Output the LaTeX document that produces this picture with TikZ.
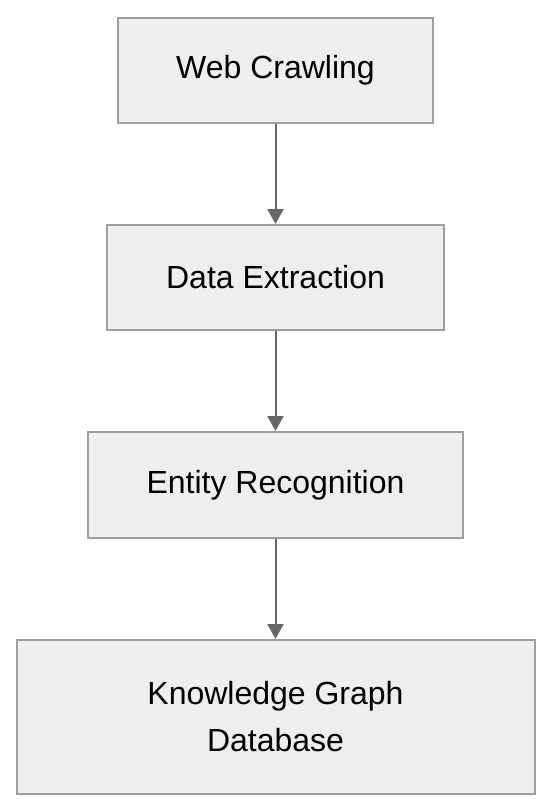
\documentclass[tikz,border=0pt]{standalone}
\usepackage{fontspec}
\setmainfont{Liberation Sans}
\usepackage{xcolor}
\usepackage{tikz}
\usetikzlibrary{arrows.meta,positioning}
\definecolor{stagefill}{HTML}{EEEEEE}
\definecolor{stagedraw}{HTML}{9E9E9E}
\definecolor{flowgray}{HTML}{666666}
\tikzset{
  stage/.style={draw=stagedraw, fill=stagefill, line width=2pt, align=center, font=\fontsize{32}{47}\selectfont, inner sep=4pt, minimum height=105pt},
  flow/.style={-{Triangle[width=16pt,length=15pt]}, line width=2pt, draw=flowgray}
}
\begin{document}
\begin{tikzpicture}[x=1pt, y=1pt, node distance=100pt]
  \useasboundingbox (0,0) rectangle (552,-812);
  \node[stage, minimum width=315pt] (crawl) at (275.5,-70.5) {Web Crawling};
  \node[stage, minimum width=337pt, below=of crawl] (extract) {Data Extraction};
  \node[stage, minimum width=375pt, minimum height=106pt, below=of extract] (entity) {Entity Recognition};
  \node[stage, minimum width=518pt, minimum height=154pt, below=of entity] (kgdb) {Knowledge Graph\\Database};
  \draw[flow] (crawl) -- (extract);
  \draw[flow] (extract) -- (entity);
  \draw[flow] (entity) -- (kgdb);
\end{tikzpicture}
\end{document}
